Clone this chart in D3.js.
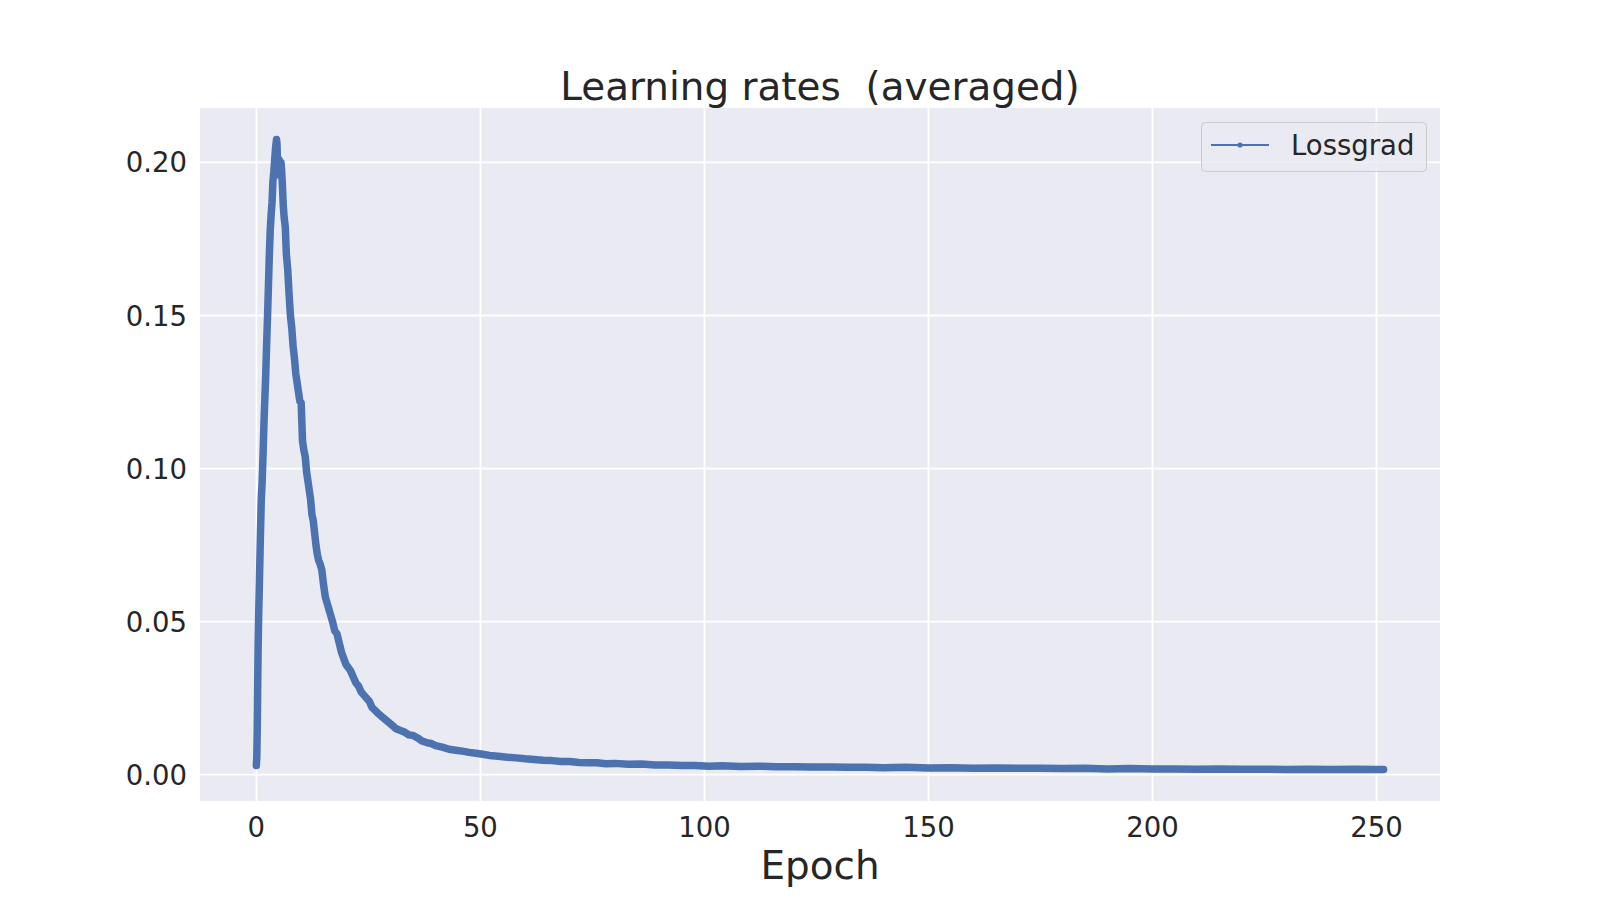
<!DOCTYPE html>
<html>
  <head>
    <meta charset="utf-8">
    <title>Learning rates (averaged)</title>
    <style>
    body {
        margin: 0;
        background-color: #FFF;
        font-family: "DejaVu Sans", sans-serif;
    }
    svg text {
        fill: #262626;
    }
    .grid line {
        stroke: #FFF;
        stroke-width: 1.8px;
    }
    </style>
    <script src="https://d3js.org/d3.v7.min.js"></script>
  </head>
  <body>
    <svg id="chart" width="1600" height="900"></svg>

    <script>
    // values
    var epochs = [
        0, 0.1, 0.2, 0.3, 0.4, 0.5, 0.7, 0.9, 1.1, 1.3, 1.5, 1.7, 1.9, 2.1, 2.3, 2.5, 2.7, 2.9, 3.1, 3.3,
        3.5, 3.7, 3.9, 4.1, 4.3, 4.5, 4.6, 4.75, 4.9, 5.05, 5.2, 5.35, 5.5, 5.65, 5.8, 6.0, 6.2, 6.45, 6.7, 7.0,
        7.3, 7.6, 7.9, 8.2, 8.5, 8.8, 9.1, 9.4, 9.7, 10.0, 10.3, 10.6, 10.9, 11.2, 11.5, 11.8, 12.1, 12.4, 12.7, 13.0,
        13.3, 13.6, 13.9, 14.2, 14.6, 15.0, 15.4, 15.8, 16.2, 16.6, 17.0, 17.5, 18.0, 18.5, 19.0, 19.5, 20.0, 20.5, 21.0, 21.6,
        22.2, 22.8, 23.4, 24.0, 24.6, 25.2, 25.8, 26.5, 27.2, 28.0, 28.8, 29.6, 30.4, 31.2, 32.0, 33.0, 34.0, 35.0, 36.0, 37.0,
        38.0, 39.0, 40.0, 41.5, 43.0, 44.5, 46.0, 47.5, 49.0, 50.5, 52, 54, 56, 58, 60, 62, 64, 66, 68, 70,
        72, 74, 76, 78, 80, 83, 86, 89, 92, 95, 98, 101, 104, 108, 112, 116, 120, 124, 128, 132,
        136, 140, 145, 150, 155, 160, 165, 170, 175, 180, 185, 190, 195, 200, 205, 210, 215, 220, 225, 230,
        235, 240, 245, 250, 251.6
    ];
    var lossgrad = [
        0.0030, 0.0060, 0.0150, 0.0300, 0.0420, 0.0510, 0.0640, 0.0780, 0.0900, 0.0960, 0.1050, 0.1150, 0.1230, 0.1310, 0.1410, 0.1500, 0.1600, 0.1700, 0.1780, 0.1830,
        0.1870, 0.1940, 0.1970, 0.2010, 0.2050, 0.2075, 0.2060, 0.1990, 0.1960, 0.2010, 0.1980, 0.1960, 0.2000, 0.1970, 0.1930, 0.1860, 0.1820, 0.1790, 0.1700, 0.1650,
        0.1570, 0.1500, 0.1460, 0.1400, 0.1360, 0.1310, 0.1280, 0.1250, 0.1220, 0.1215, 0.1090, 0.1060, 0.1040, 0.0990, 0.0960, 0.0930, 0.0900, 0.0850, 0.0830, 0.0790,
        0.0750, 0.0720, 0.0700, 0.0690, 0.0670, 0.0620, 0.0580, 0.0560, 0.0540, 0.0520, 0.0500, 0.0470, 0.0460, 0.0430, 0.0400, 0.0380, 0.0360, 0.0350, 0.0340, 0.0320,
        0.0300, 0.0290, 0.0270, 0.0260, 0.0250, 0.0240, 0.0220, 0.0210, 0.0200, 0.0190, 0.0180, 0.0170, 0.0160, 0.0150, 0.0145, 0.0140, 0.0130, 0.0128, 0.0120, 0.0110,
        0.0105, 0.0102, 0.0095, 0.0090, 0.0083, 0.0080, 0.0077, 0.0073, 0.0070, 0.0067, 0.0063, 0.0060, 0.0057, 0.0055, 0.0052, 0.0050, 0.0047, 0.0046, 0.0043, 0.0043,
        0.0040, 0.0039, 0.0039, 0.0036, 0.0037, 0.0034, 0.0035, 0.0032, 0.0032, 0.0030, 0.0030, 0.0028, 0.0029, 0.0027, 0.0028, 0.0026, 0.0026, 0.0025, 0.0025, 0.0024,
        0.0024, 0.0023, 0.0024, 0.0022, 0.0023, 0.0021, 0.0022, 0.0021, 0.0021, 0.0020, 0.0021, 0.0019, 0.0020, 0.0019, 0.0019, 0.0018, 0.0019, 0.0018, 0.0018, 0.0017,
        0.0018, 0.0017, 0.0018, 0.0017, 0.0017
    ];
    var xTicks = [0, 50, 100, 150, 200, 250];
    var yTicks = [0.00, 0.05, 0.10, 0.15, 0.20];
    var seriesName = "Lossgrad";

    var svg = d3.select("#chart");
    var plotLeft = 200, plotRight = 1440, plotTop = 108, plotBottom = 801;
    var lineColor = "#4c72b0";

    var points = epochs.map(function(e, i) { return {x: e, y: lossgrad[i]}; });

    // matplotlib style 5% margins
    var xExt = d3.extent(epochs), yExt = d3.extent(lossgrad);
    var xPad = (xExt[1] - xExt[0]) * 0.05, yPad = (yExt[1] - yExt[0]) * 0.05;

    var x = d3.scaleLinear().domain([xExt[0] - xPad, xExt[1] + xPad]).range([plotLeft, plotRight]);
    var y = d3.scaleLinear().domain([yExt[0] - yPad, yExt[1] + yPad]).range([plotBottom, plotTop]);

    svg.append("rect")
        .attr("x", plotLeft).attr("y", plotTop)
        .attr("width", plotRight - plotLeft).attr("height", plotBottom - plotTop)
        .attr("fill", "#eaeaf2");

    svg.append("clipPath").attr("id", "plotClip")
        .append("rect")
        .attr("x", plotLeft).attr("y", plotTop)
        .attr("width", plotRight - plotLeft).attr("height", plotBottom - plotTop);

    var grid = svg.append("g").attr("class", "grid");
    grid.selectAll("line.gx").data(xTicks).enter().append("line")
        .attr("class", "gx")
        .attr("x1", function(d) { return x(d); }).attr("x2", function(d) { return x(d); })
        .attr("y1", plotTop).attr("y2", plotBottom);
    grid.selectAll("line.gy").data(yTicks).enter().append("line")
        .attr("class", "gy")
        .attr("y1", function(d) { return y(d); }).attr("y2", function(d) { return y(d); })
        .attr("x1", plotLeft).attr("x2", plotRight);

    // tick labels
    svg.append("g").selectAll("text").data(xTicks).enter().append("text")
        .attr("x", function(d) { return x(d); })
        .attr("y", 837)
        .attr("text-anchor", "middle")
        .attr("font-size", "27.5px")
        .text(function(d) { return d; });

    svg.append("g").selectAll("text").data(yTicks).enter().append("text")
        .attr("x", 187)
        .attr("y", function(d) { return y(d) + 10; })
        .attr("text-anchor", "end")
        .attr("font-size", "27.5px")
        .text(function(d) { return d3.format(".2f")(d); });

    var line = d3.line()
        .x(function(d) { return x(d.x); })
        .y(function(d) { return y(d.y); });

    svg.append("path")
        .datum(points)
        .attr("clip-path", "url(#plotClip)")
        .attr("fill", "none")
        .attr("stroke", lineColor)
        .attr("stroke-width", 7.5)
        .attr("stroke-linejoin", "round")
        .attr("stroke-linecap", "round")
        .attr("d", line);

    // title and axis label
    svg.append("text")
        .attr("x", (plotLeft + plotRight) / 2).attr("y", 100)
        .attr("text-anchor", "middle")
        .attr("font-size", "38.9px")
        .style("white-space", "pre")
        .text("Learning rates  (averaged)");

    svg.append("text")
        .attr("x", (plotLeft + plotRight) / 2).attr("y", 879)
        .attr("text-anchor", "middle")
        .attr("font-size", "38.9px")
        .text("Epoch");

    // legend
    var legend = svg.append("g");
    legend.append("rect")
        .attr("x", 1201.5).attr("y", 122.5)
        .attr("width", 225).attr("height", 49)
        .attr("rx", 4)
        .attr("fill", "#eaeaf2").attr("fill-opacity", 0.8)
        .attr("stroke", "#cccccc").attr("stroke-width", 1);
    legend.append("line")
        .attr("x1", 1211).attr("x2", 1269)
        .attr("y1", 145).attr("y2", 145)
        .attr("stroke", lineColor).attr("stroke-width", 2);
    legend.append("circle")
        .attr("cx", 1240).attr("cy", 145).attr("r", 2.6)
        .attr("fill", lineColor);
    legend.append("text")
        .attr("x", 1291).attr("y", 155)
        .attr("font-size", "27.5px")
        .text(seriesName);
    </script>
  </body>
</html>
